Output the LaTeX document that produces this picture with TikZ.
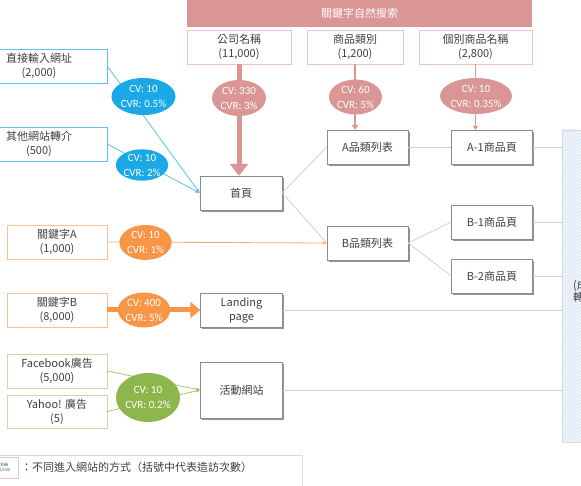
\documentclass[tikz,border=0pt]{standalone}
\usepackage{fontspec}
\setmainfont{Noto Sans CJK TC}
\newfontfamily\cvfont{Carlito}
\usetikzlibrary{arrows.meta,shapes,shadows,patterns}
\definecolor{kwpink}{HTML}{D99694}
\definecolor{kwline}{HTML}{EBC4C3}
\definecolor{cvblue}{HTML}{1AA9E6}
\definecolor{blueline}{HTML}{5CC3EC}
\definecolor{cvorange}{HTML}{F79646}
\definecolor{orangeline}{HTML}{FAC090}
\definecolor{cvgreen}{HTML}{8DB64C}
\definecolor{greenline}{HTML}{C8DAA4}
\definecolor{hatch}{HTML}{C9E2F2}
\tikzset{
  txt/.style={font=\fontsize{11}{14}\selectfont,text=black!75},
  page/.style={txt,draw=black!45,fill=white,minimum width=81pt,minimum height=34pt,
    inner sep=0pt,align=center,
    drop shadow={shadow xshift=1.6pt,shadow yshift=-1.6pt,fill=black!60,opacity=.7}},
  src/.style={txt,draw=#1,fill=white,minimum height=34pt,inner sep=0pt,align=center},
  cv/.style={ellipse,fill=#1,text=white,inner sep=0pt,align=center,
    font=\cvfont\fontsize{11}{15}\selectfont},
  flow/.style={draw=black!18,line width=.8pt}
}
\begin{document}
\begin{tikzpicture}[x=1pt,y=-1pt]
\useasboundingbox (0,0) rectangle (581,486);
% conversion zone (right, cut off)
\node[draw=black!15,preaction={fill=blue!3},pattern=north east lines,pattern color=hatch,
  minimum width=38pt,minimum height=312pt,inner sep=0pt] (convzone) at (581,286) {};
\node[anchor=west,align=left,text=black!75,inner sep=0pt,font=\fontsize{11}{12}\selectfont] (convtext) at (573,291) {(成交)\\轉換};
% organic search
\node[fill=kwpink,text=white,font=\fontsize{11}{13}\selectfont,minimum width=345pt,minimum height=27pt,inner sep=0pt] (organic) at (359.5,13.5) {關鍵字自然搜索};
\node[src=kwline,minimum width=104pt] (company) at (239,47) {公司名稱\\(11,000)};
\node[src=kwline,minimum width=96pt] (category) at (355,47) {商品類別\\(1,200)};
\node[src=kwline,minimum width=113pt] (product) at (475.5,47) {個別商品名稱\\(2,800)};
% other sources
\node[src=blueline,minimum width=136pt] (direct) at (39,66) {直接輸入網址\\(2,000)};
\node[src=blueline,minimum width=136pt] (refer) at (39,144) {其他網站轉介\\(500)};
\node[src=orangeline,minimum width=100pt] (kwa) at (57,242) {關鍵字A\\(1,000)};
\node[src=orangeline,minimum width=100pt] (kwb) at (57,310) {關鍵字B\\(8,000)};
\node[src=greenline,minimum width=100pt] (fb) at (57,371) {Facebook廣告\\(5,000)};
\node[src=greenline,minimum width=100pt,minimum height=33pt] (yahoo) at (57,411.5) {Yahoo! 廣告\\(5)};
% pages
\node[page,minimum width=82pt] (home) at (241,193) {首頁};
\node[page] (alist) at (367.5,147) {A品類列表};
\node[page] (a1) at (492,147) {A-1商品頁};
\node[page] (blist) at (367.5,243) {B品類列表};
\node[page] (b1) at (492,222) {B-1商品頁};
\node[page] (b2) at (492,276) {B-2商品頁};
\node[page,minimum width=82pt] (landing) at (241.5,310) {Landing\\page};
\node[page,minimum width=82pt,minimum height=56pt] (event) at (241.5,390) {活動網站};
% site flow
\draw[flow] (home.east) -- (alist.west);
\draw[flow] (home.east) -- (blist.west);
\draw[flow] (alist) -- (a1);
\draw[flow] (blist.east) -- (b1.west);
\draw[flow] (blist.east) -- (b2.west);
\draw[flow] (a1.east) -- (a1.east -| convzone.west);
\draw[flow] (b1.east) -- (b1.east -| convzone.west);
\draw[flow] (b2.east) -- (b2.east -| convzone.west);
\draw[flow] (landing.east) -- (landing.east -| convzone.west);
\draw[flow] (event.east) -- (event.east -| convzone.west);
% traffic
\draw[kwpink,line width=5pt,-{Triangle[length=12pt,width=18pt]}] (company.south) -- (company.south |- home.north);
\draw[kwpink,line width=2.5pt,-{Triangle[length=5pt,width=7pt]}] (category.south) -- (category.south |- alist.north);
\draw[kwpink,line width=1pt,-{Triangle[length=4pt,width=5pt]}] (product.south) -- (product.south |- a1.north);
\draw[blueline,line width=.8pt,-{Latex[length=4pt,width=4pt]}] (direct.east) -- (home.west);
\draw[blueline,line width=.8pt,-{Latex[length=4pt,width=4pt]}] (refer.east) -- (home.west);
\draw[cvorange!80,line width=.8pt,-{Latex[length=4pt,width=4pt]}] (kwa.east) -- (blist.west);
\draw[cvorange,line width=5pt,-{Triangle[length=10pt,width=16pt]}] (kwb.east) -- (landing.west);
\draw[cvgreen!80,line width=.8pt,-{Latex[length=4pt,width=4pt]}] (fb.east) -- (event.west);
\draw[cvgreen!80,line width=.8pt,-{Latex[length=4pt,width=4pt]}] (yahoo.east) -- (event.west);
% conversions
\node[cv=kwpink,minimum width=54pt,minimum height=36pt] (cvcompany) at (239,98) {CV: 330\\CVR: 3\%};
\node[cv=kwpink,minimum width=53pt,minimum height=35pt] (cvcategory) at (355.5,97) {CV: 60\\CVR: 5\%};
\node[cv=kwpink,minimum width=72pt,minimum height=36pt] (cvproduct) at (476,96) {CV: 10\\CVR: 0.35\%};
\node[cv=cvblue,minimum width=63pt,minimum height=37pt] (cvdirect) at (143.5,96.5) {CV: 10\\CVR: 0.5\%};
\node[cv=cvblue,minimum width=49pt,minimum height=31pt] (cvrefer) at (142,165) {CV: 10\\CVR: 2\%};
\node[cv=cvorange,minimum width=49pt,minimum height=35pt] (cvkwa) at (145.5,242.5) {CV: 10\\CVR: 1\%};
\node[cv=cvorange,minimum width=46pt,minimum height=35pt] (cvkwb) at (144,310) {CV: 400\\CVR: 5\%};
\node[cv=cvgreen,minimum width=54pt,minimum height=49pt] (cvad) at (148,397.5) {CV: 10\\CVR: 0.2\%};
% legend
\node[draw=black!15,minimum width=307pt,minimum height=45pt,inner sep=0pt] (legend) at (148.5,477.5) {};
\node[draw=kwline,align=center,inner sep=0pt,minimum width=28pt,minimum height=21pt,
  text=black!70,font=\fontsize{4}{5}\selectfont] (legendkey) at (4,467.5) {名稱\\(1,000)};
\node[txt,anchor=west,inner sep=0pt] (legendtext) at (21,467) {：不同進入網站的方式（括號中代表造訪次數）};
\end{tikzpicture}
\end{document}
